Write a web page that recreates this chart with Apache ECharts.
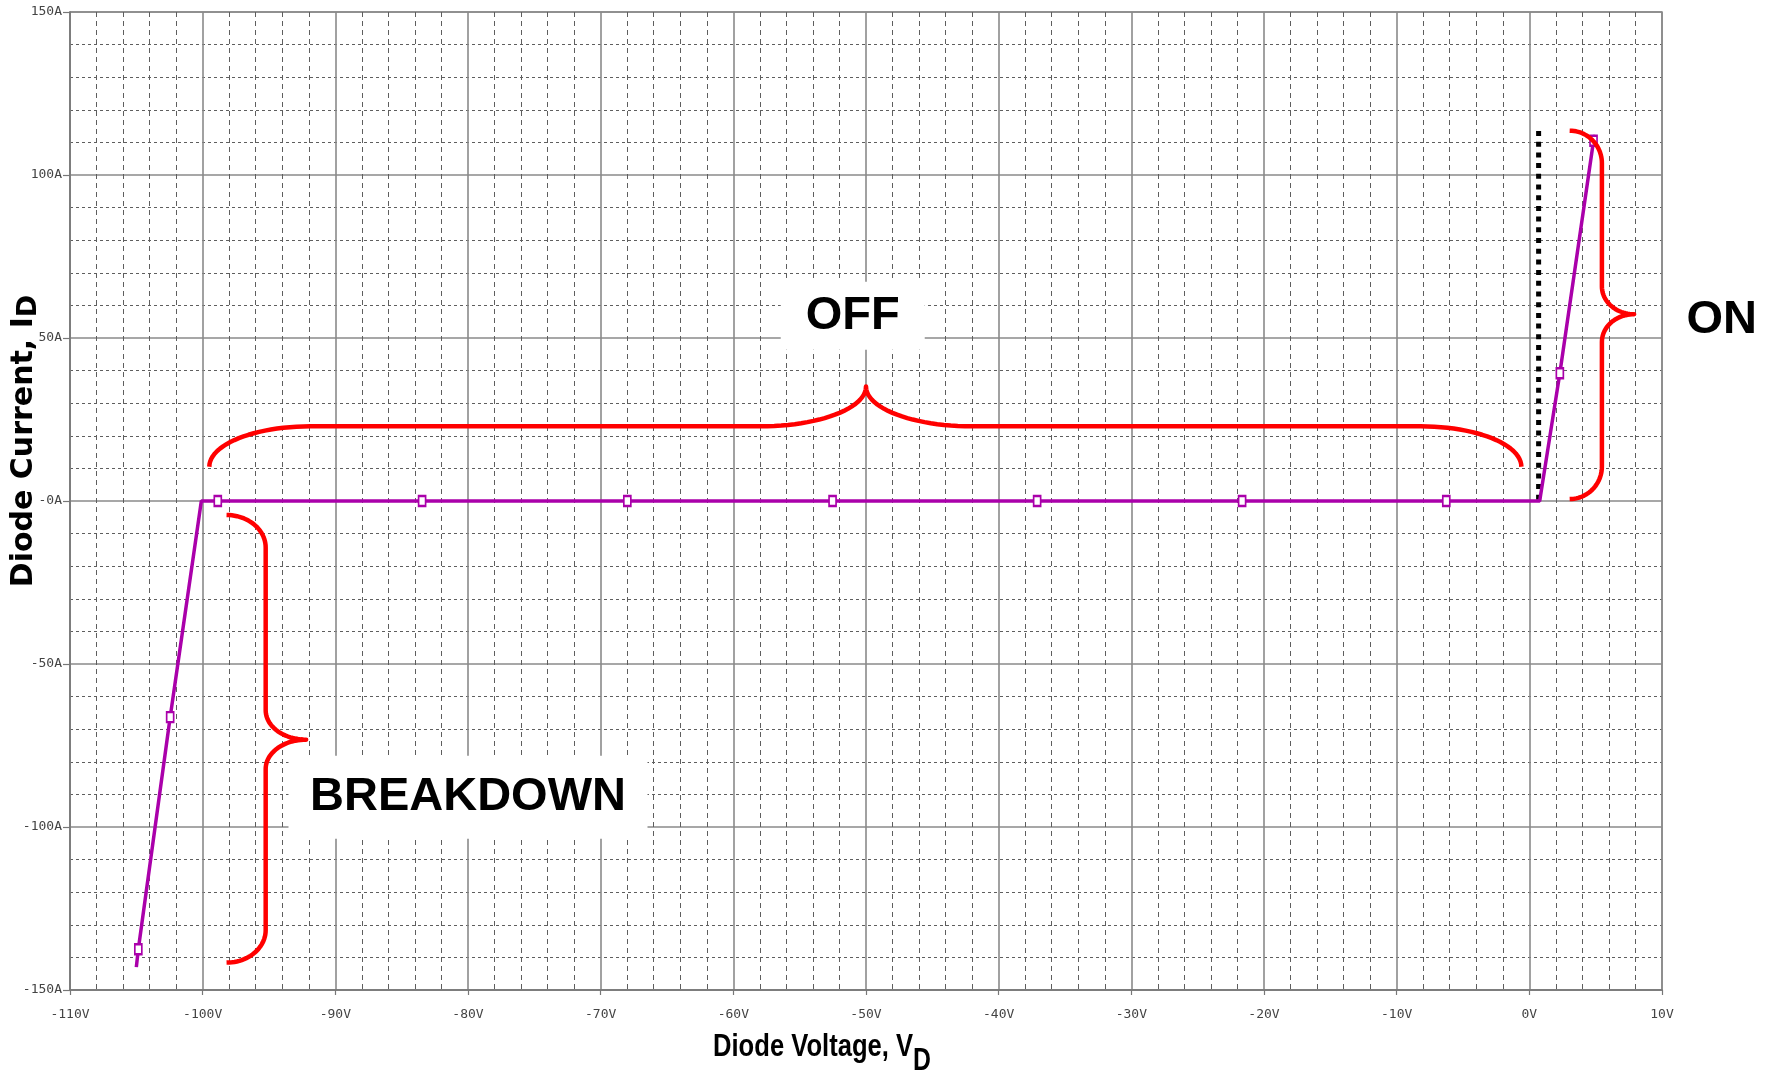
<!DOCTYPE html>
<html>
<head>
<meta charset="utf-8">
<script src="https://cdn.jsdelivr.net/npm/echarts@6/dist/echarts.min.js"></script>
<style>
html,body{margin:0;padding:0;background:#fff;}
#c{width:1779px;height:1074px;}
</style>
</head>
<body>
<div id="c"></div>
<script>
// ---- tick labels ----
const xTickValues = [-110,-100,-90,-80,-70,-60,-50,-40,-30,-20,-10,0,10];
const xTickLabels = ['-110V','-100V','-90V','-80V','-70V','-60V','-50V','-40V','-30V','-20V','-10V','0V','10V'];
const yTickValues = [-150,-100,-50,0,50,100,150];
const yTickLabels = ['-150A','-100A','-50A','-0A','50A','100A','150A'];

// ---- diode I-V curve (V, A) ----
const curveVoltage = [-105.0,-104.85,-102.45,-100.1,-98.86,-83.46,-67.99,-52.52,-37.1,-21.65,-6.26,0.78,2.3,4.84,4.97];
const curveCurrent = [-143,-137.5,-66.3,0,0,0,0,0,0,0,0,0,39.2,110.5,112.3];

// ---- probe markers on the curve ----
const markerVoltage = [-104.85,-102.45,-98.86,-83.46,-67.99,-52.52,-37.1,-21.65,-6.26,2.3,4.84];
const markerCurrent = [-137.5,-66.3,0,0,0,0,0,0,0,39.2,110.5];

// ---- threshold (dotted black) line ----
const thresholdVoltage = [0.7, 0.7];
const thresholdCurrent = [113.5, 0];

// ---- braces: [orientation(0=horizontal,1=vertical), start, end, tipAt, endPerp, barPerp, tipPerp, endCurl, tipCurl]
// horizontal: along = voltage, perp = current ; vertical: along = current, perp = voltage
const braceOff       = [0, -99.5, -0.6, -50.0, 10.5, 22.9, 35.1, 7.6, 8.0];
const braceOn        = [1, 113.6, 0.6, 57.3, 3.04, 5.47, 7.9, 10, 8.5];
const braceBreakdown = [1, -4.3, -141.6, -73.2, -98.2, -95.25, -92.2, 10, 9];

// ---- region labels ----
const labelTexts   = ['OFF','ON','BREAKDOWN'];
const labelVoltage = [-51.0, 14.5, -80.0];
const labelCurrent = [56.8, 55.6, -90.9];

const magenta = '#AA00AA';
const tickFont = '"DejaVu Sans Mono","Liberation Mono",monospace';

function nearestLabel(v, vals, labels){
  let bi = -1, bd = 1e9;
  for (let i = 0; i < vals.length; i++){ const d = Math.abs(vals[i]-v); if (d < bd){bd = d; bi = i;} }
  return bd < 1e-6 ? labels[bi] : '';
}

function cubicPts(p0,p1,p2,p3,n,out){
  for (let i = 1; i <= n; i++){
    const t = i/n, s = 1-t;
    out.push([
      s*s*s*p0[0] + 3*s*s*t*p1[0] + 3*s*t*t*p2[0] + t*t*t*p3[0],
      s*s*s*p0[1] + 3*s*s*t*p1[1] + 3*s*t*t*p2[1] + t*t*t*p3[1]
    ]);
  }
}

function renderBrace(params, api){
  const o = api.value(0);
  const a = api.value(1), b = api.value(2), m = api.value(3);
  const e = api.value(4), r = api.value(5), t = api.value(6);
  const ce = api.value(7), ct = api.value(8);
  const P = (u, v) => { const p = (o === 0) ? api.coord([u, v]) : api.coord([v, u]); return (o === 0) ? [p[0], p[1]] : [p[1], p[0]]; };
  const ua = P(a, e)[0], ub = P(b, e)[0], um = P(m, t)[0];
  const ve = P(a, e)[1], vb = P(a, r)[1], vt = P(m, t)[1];
  const s = ub > ua ? 1 : -1;
  const Le = Math.abs(P(a + (b > a ? ce : -ce), e)[0] - ua);
  const Lt = Math.abs(P(m + (b > a ? ct : -ct), e)[0] - um);
  const k = 0.5523;
  const pts = [[ua, ve]];
  cubicPts([ua, ve], [ua, ve + k*(vb-ve)], [ua + s*(1-k)*Le, vb], [ua + s*Le, vb], 24, pts);
  pts.push([um - s*Lt, vb]);
  cubicPts([um - s*Lt, vb], [um - s*Lt + s*k*Lt, vb], [um, vt + k*(vb-vt)], [um, vt], 24, pts);
  cubicPts([um, vt], [um, vt + k*(vb-vt)], [um + s*Lt - s*k*Lt, vb], [um + s*Lt, vb], 24, pts);
  pts.push([ub - s*Le, vb]);
  cubicPts([ub - s*Le, vb], [ub - s*Le + s*k*Le, vb], [ub, ve + k*(vb-ve)], [ub, ve], 24, pts);
  const out = (o === 0) ? pts : pts.map(p => [p[1], p[0]]);
  return {
    type: 'polyline',
    shape: { points: out },
    style: { fill: null, stroke: '#FF0000', lineWidth: 4.5, lineJoin: 'round', lineCap: 'butt' }
  };
}

const labelBoxes = [[144, 68], [0, 0], [359, 83]];
function renderLabel(params, api){
  const c = api.coord([api.value(0), api.value(1)]);
  const i = params.dataIndex;
  const children = [];
  const bw = labelBoxes[i][0], bh = labelBoxes[i][1];
  if (bw > 0){
    children.push({ type: 'rect', shape: { x: c[0]-bw/2, y: c[1]-bh/2, width: bw, height: bh }, style: { fill: '#ffffff' } });
  }
  children.push({
    type: 'text', x: c[0], y: c[1],
    style: {
      text: labelTexts[i], fill: '#000',
      font: 'bold 47px "Liberation Sans", Arial, sans-serif',
      align: 'center', verticalAlign: 'middle', textAlign: 'center', textVerticalAlign: 'middle'
    }
  });
  return { type: 'group', children: children };
}

const chart = echarts.init(document.getElementById('c'), null, { renderer: 'canvas' });

const option = {
  animation: false,
  backgroundColor: '#ffffff',
  grid: { left: 70, right: 117, top: 12, bottom: 84, show: true, borderColor: '#888', borderWidth: 1.5, backgroundColor: 'transparent' },
  xAxis: {
    type: 'value', min: -110, max: 10, interval: 10,
    axisLine: { show: true, onZero: false, lineStyle: { color: '#777', width: 1.5 } },
    axisTick: { show: true, inside: false, length: 5, lineStyle: { color: '#777', width: 1.2 } },
    axisLabel: { show: true, margin: 18, color: '#444', fontFamily: tickFont, fontSize: 13, showMinLabel: true, showMaxLabel: true,
      formatter: v => nearestLabel(v, xTickValues, xTickLabels) },
    splitLine: { show: true, lineStyle: { color: '#8a8a8a', width: 1.6 } },
    minorTick: { show: false, splitNumber: 5 },
    minorSplitLine: { show: true, lineStyle: { color: '#5e5e5e', width: 1, type: [5, 4] } }
  },
  yAxis: {
    type: 'value', min: -150, max: 150, interval: 50,
    axisLine: { show: true, onZero: false, lineStyle: { color: '#777', width: 1.5 } },
    axisTick: { show: true, inside: false, length: 7, lineStyle: { color: '#777', width: 1.2 } },
    axisLabel: { show: true, margin: 8, color: '#444', fontFamily: tickFont, fontSize: 13, showMinLabel: true, showMaxLabel: true,
      formatter: v => nearestLabel(v, yTickValues, yTickLabels) },
    splitLine: { show: true, lineStyle: { color: '#8a8a8a', width: 1.6 } },
    minorTick: { show: false, splitNumber: 5 },
    minorSplitLine: { show: true, lineStyle: { color: '#5e5e5e', width: 1, type: [3, 3] } }
  },
  graphic: [
    {
      type: 'text', x: 26, y: 441, rotation: Math.PI / 2, z: 100,
      style: {
        text: '{a|Diode Current, I}{b|D}',
        rich: {
          a: { fontFamily: '"DejaVu Sans", sans-serif', fontWeight: 'bold', fontSize: 30, fill: '#000', lineHeight: 34, verticalAlign: 'top' },
          b: { fontFamily: '"DejaVu Sans", sans-serif', fontWeight: 'bold', fontSize: 27, fill: '#000', lineHeight: 34, padding: [6, 0, 0, 0], verticalAlign: 'top' }
        },
        align: 'center', verticalAlign: 'middle', textAlign: 'center', textVerticalAlign: 'middle'
      }
    },
    {
      type: 'text', x: 822, y: 1031, scaleX: 0.8, z: 100,
      style: {
        text: '{a|Diode Voltage, V}{b|D}',
        rich: {
          a: { fontFamily: '"Liberation Sans", Arial, sans-serif', fontWeight: 'bold', fontSize: 32, fill: '#000', lineHeight: 36, verticalAlign: 'top' },
          b: { fontFamily: '"Liberation Sans", Arial, sans-serif', fontWeight: 'bold', fontSize: 31, fill: '#000', lineHeight: 36, padding: [15, 0, 0, 0], verticalAlign: 'top' }
        },
        align: 'center', verticalAlign: 'top', textAlign: 'center', textVerticalAlign: 'top'
      }
    }
  ],
  series: [
    {
      name: 'labels', type: 'custom', coordinateSystem: 'cartesian2d', clip: false, z: 1,
      renderItem: renderLabel,
      data: labelTexts.map((t, i) => [labelVoltage[i], labelCurrent[i]])
    },
    {
      name: 'threshold', type: 'line', symbol: 'none', z: 2,
      data: thresholdVoltage.map((v, i) => [v, thresholdCurrent[i]]),
      lineStyle: { color: '#000', width: 5, type: [5, 5.7], cap: 'butt' }
    },
    {
      name: 'I-V', type: 'line', symbol: 'none', z: 3,
      data: curveVoltage.map((v, i) => [v, curveCurrent[i]]),
      lineStyle: { color: magenta, width: 3.5 }
    },
    {
      name: 'markers', type: 'scatter', symbol: 'rect', symbolSize: [7, 10], z: 4,
      data: markerVoltage.map((v, i) => [v, markerCurrent[i]]),
      itemStyle: { color: '#ffffff', borderColor: magenta, borderWidth: 2, opacity: 1 }
    },
    {
      name: 'braces', type: 'custom', coordinateSystem: 'cartesian2d', clip: false, z: 5,
      renderItem: renderBrace,
      data: [braceOff, braceOn, braceBreakdown]
    }
  ]
};
chart.setOption(option);
</script>
</body>
</html>
